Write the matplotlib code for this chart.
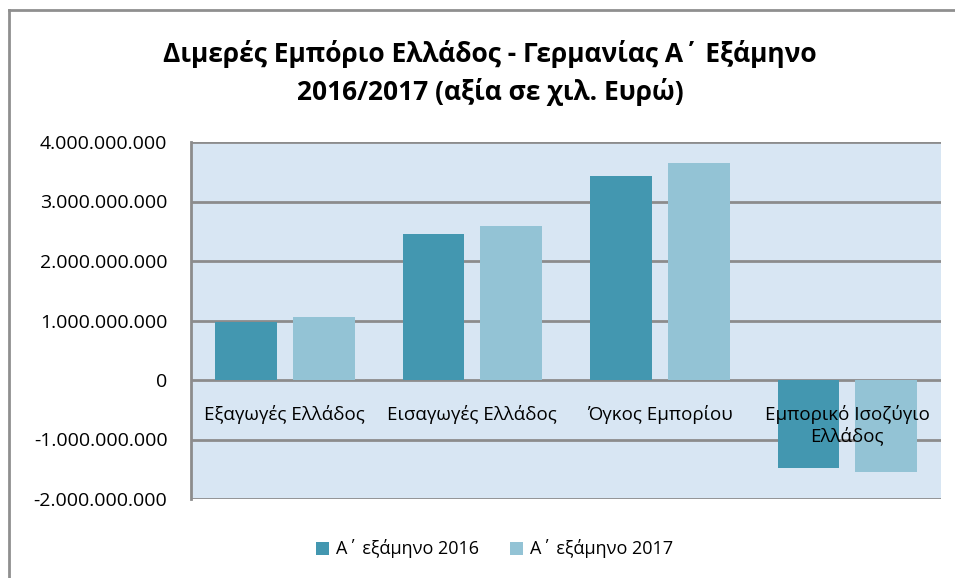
import matplotlib.pyplot as plt
from matplotlib.ticker import FuncFormatter
import numpy as np

categories = ['Εξαγωγές Ελλάδος', 'Εισαγωγές Ελλάδος', 'Όγκος Εμπορίου', 'Εμπορικό Ισοζύγιο\nΕλλάδος']
series_names = ['Α΄ εξάμηνο 2016', 'Α΄ εξάμηνο 2017']
values_2016 = [975e6, 2450e6, 3425e6, -1475e6]
values_2017 = [1060e6, 2595e6, 3655e6, -1545e6]
yticks = [-2e9, -1e9, 0, 1e9, 2e9, 3e9, 4e9]

dark = '#4397b0'
light = '#93c3d5'
grid_c = '#8c8c8c'

plt.rcParams['font.family'] = ['Open Sans', 'DejaVu Sans']

fig = plt.figure(figsize=(9.55, 5.78), dpi=100)

# outer chart frame (only left and top edges visible)
fig.add_artist(plt.Line2D([9 / 955, 9 / 955], [0, 1 - 10 / 578], transform=fig.transFigure,
                          color='#8f8f8f', lw=2))
fig.add_artist(plt.Line2D([9 / 955, 1], [1 - 10 / 578, 1 - 10 / 578], transform=fig.transFigure,
                          color='#8f8f8f', lw=2))

left, right, top, bottom = 191 / 955, 941 / 955, 1 - 142 / 578, 1 - 499 / 578
ax = fig.add_axes([left, bottom, right - left, top - bottom])
ax.set_facecolor('#d8e6f3')

x = np.arange(len(categories))
w = 0.33
off = 0.207
ax.bar(x - off, values_2016, w, color=dark, label=series_names[0], zorder=3)
ax.bar(x + off, values_2017, w, color=light, label=series_names[1], zorder=3)

ax.set_xlim(-0.5, len(categories) - 0.5)
ax.set_ylim(-2e9, 4e9)
ax.set_yticks(yticks)
ax.yaxis.set_major_formatter(FuncFormatter(lambda v, p: f"{v:,.0f}".replace(',', '.')))
ax.tick_params(axis='y', length=0, pad=17, labelsize=14)
ax.set_xticks([])
for y in yticks:
    ax.axhline(y, color=grid_c, lw=2, zorder=2)

for s in ['top', 'right', 'bottom']:
    ax.spines[s].set_visible(False)
ax.spines['left'].set_color(grid_c)
ax.spines['left'].set_linewidth(2)

for i, c in enumerate(categories):
    ax.text(i, -0.42e9, c, ha='center', va='top', fontsize=13.5, zorder=4,
            linespacing=1.15)

fig.text(0.513, 0.874, 'Διμερές Εμπόριο Ελλάδος - Γερμανίας Α΄ Εξάμηνο\n2016/2017 (αξία σε χιλ. Ευρώ)',
         ha='center', va='center', fontsize=19, fontweight='bold', linespacing=1.45)

fig.legend(loc='center', bbox_to_anchor=(0.518, 1 - 549 / 578), ncol=2, frameon=False,
           fontsize=13, handlelength=0.7, handleheight=0.7, handletextpad=0.4,
           columnspacing=1.7)

fig.savefig('out.png', dpi=100)
